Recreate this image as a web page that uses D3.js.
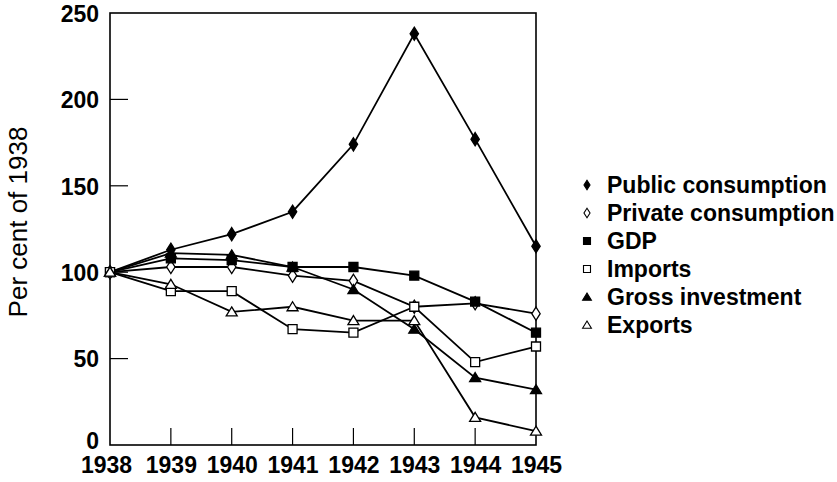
<!DOCTYPE html>
<html>
<head>
<meta charset="utf-8">
<script src="https://cdn.jsdelivr.net/npm/d3@7"></script>
<style>
  body { margin: 0; background: #fff; }
  text { font-family: "Liberation Sans", Arial, sans-serif; fill: #000; }
</style>
</head>
<body>
<div id="chart"></div>
<script>
// data (per cent of 1938)
var years = [1938, 1939, 1940, 1941, 1942, 1943, 1944, 1945];
var publicConsumption  = [100, 113, 122, 135, 174, 238, 177, 115];
var privateConsumption = [100, 103, 103, 98, 95, 80, 82, 76];
var gdp                = [100, 108, 107, 103, 103, 98, 83, 65];
var imports            = [100, 89, 89, 67, 65, 80, 48, 57];
var grossInvestment    = [100, 111, 110, 103, 90, 67, 39, 32];
var exports            = [100, 93, 77, 80, 72, 72, 16, 8];
var yTicks = [0, 50, 100, 150, 200, 250];

var seriesNames = ["Public consumption", "Private consumption", "GDP", "Imports", "Gross investment", "Exports"];
var seriesValues = [publicConsumption, privateConsumption, gdp, imports, grossInvestment, exports];
var seriesShapes = ["diamond", "diamond", "square", "square", "triangle", "triangle"];
var seriesFilled = [true, false, true, false, true, false];

var width = 837, height = 482;
var x = d3.scaleLinear().domain([1938, 1945]).range([110, 536]);
var y = d3.scaleLinear().domain([0, 250]).range([445, 13]);

var svg = d3.select("#chart").append("svg")
  .attr("width", width)
  .attr("height", height);

// marker shape paths, centred on 0,0
function shapePath(shape, s) {
  if (shape === "diamond") {
    var w = s * 0.38, h = s * 0.6;
    return "M0," + (-h) + "L" + w + ",0L0," + h + "L" + (-w) + ",0Z";
  }
  if (shape === "square") {
    var a = s / 2;
    return "M" + (-a) + "," + (-a) + "H" + a + "V" + a + "H" + (-a) + "Z";
  }
  var t = s / 2;
  return "M0," + (-t) + "L" + (t * 1.1) + "," + (t * 0.8) + "L" + (-t * 1.1) + "," + (t * 0.8) + "Z";
}

// frame
svg.append("rect")
  .attr("x", x(1938)).attr("y", y(250))
  .attr("width", x(1945) - x(1938)).attr("height", y(0) - y(250))
  .attr("fill", "none").attr("stroke", "#000").attr("stroke-width", 1.6);

// y axis: labels outside, short ticks inside
var yAxis = d3.axisLeft(y).tickValues(yTicks).tickSize(0).tickPadding(11);
svg.append("g")
  .attr("transform", "translate(" + x(1938) + ",0)")
  .call(yAxis)
  .call(function(g) {
    g.select(".domain").remove();
    g.selectAll("text")
      .attr("dy", function(d) { return d === 0 ? "0.15em" : "0.36em"; })
      .style("font-size", "23px").style("font-weight", "bold")
      .style("font-family", "'Liberation Sans', Arial, sans-serif");
  });
svg.append("g").selectAll("line")
  .data(yTicks.filter(function(d) { return d > 0 && d < 250; }))
  .enter().append("line")
  .attr("x1", x(1938)).attr("x2", x(1938) + 18)
  .attr("y1", function(d) { return y(d); }).attr("y2", function(d) { return y(d); })
  .attr("stroke", "#000").attr("stroke-width", 1.2);

// x axis
var xAxis = d3.axisBottom(x).tickValues(years).tickFormat(d3.format("d")).tickSize(0).tickPadding(12);
svg.append("g")
  .attr("transform", "translate(0," + y(0) + ")")
  .call(xAxis)
  .call(function(g) {
    g.select(".domain").remove();
    g.selectAll("text")
      .attr("x", function(d) { return d === 1938 ? -4 : 0; })
      .style("font-size", "23px").style("font-weight", "bold")
      .style("font-family", "'Liberation Sans', Arial, sans-serif");
  });
svg.append("g").selectAll("line")
  .data(years.slice(1, -1))
  .enter().append("line")
  .attr("x1", function(d) { return x(d); }).attr("x2", function(d) { return x(d); })
  .attr("y1", y(0)).attr("y2", y(0) - 17)
  .attr("stroke", "#000").attr("stroke-width", 1.2);

// y title
svg.append("text")
  .attr("transform", "translate(27," + 222 + ") rotate(-90)")
  .attr("text-anchor", "middle")
  .style("font-size", "26px")
  .text("Per cent of 1938");

// lines
var line = d3.line()
  .x(function(d, i) { return x(years[i]); })
  .y(function(d) { return y(d); });

svg.append("g").selectAll("path")
  .data(seriesValues)
  .enter().append("path")
  .attr("d", line)
  .attr("fill", "none")
  .attr("stroke", "#000")
  .attr("stroke-width", 1.8);

// markers
seriesValues.forEach(function(vals, si) {
  var size = seriesShapes[si] === "diamond" ? 11 : (seriesShapes[si] === "square" ? 9 : 10);
  svg.append("g").selectAll("path")
    .data(vals)
    .enter().append("path")
    .attr("transform", function(d, i) { return "translate(" + x(years[i]) + "," + y(d) + ")"; })
    .attr("d", shapePath(seriesShapes[si], size))
    .attr("fill", seriesFilled[si] ? "#000" : "#fff")
    .attr("stroke", "#000")
    .attr("stroke-width", 1.3);
});

// legend
var legend = svg.append("g").attr("transform", "translate(587,185)");
var rows = legend.selectAll("g")
  .data(seriesNames)
  .enter().append("g")
  .attr("transform", function(d, i) { return "translate(0," + (i * 28) + ")"; });
rows.append("path")
  .attr("d", function(d, i) {
    var s = seriesShapes[i] === "diamond" ? 8 : (seriesShapes[i] === "square" ? 7 : 8);
    return shapePath(seriesShapes[i], s);
  })
  .attr("fill", function(d, i) { return seriesFilled[i] ? "#000" : "#fff"; })
  .attr("stroke", "#000")
  .attr("stroke-width", 1.1);
rows.append("text")
  .attr("x", 20)
  .attr("dy", "0.36em")
  .style("font-size", "23px")
  .style("font-weight", "bold")
  .text(function(d) { return d; });
</script>
</body>
</html>
